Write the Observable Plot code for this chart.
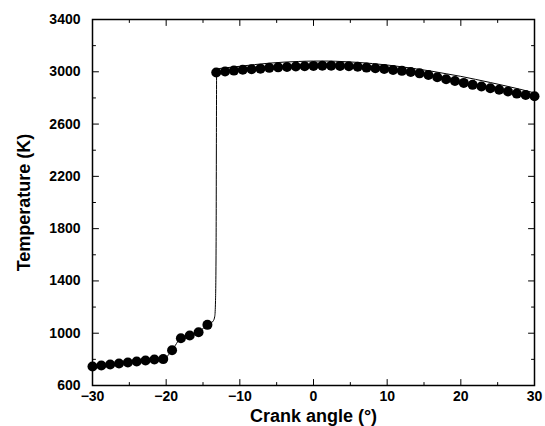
<!DOCTYPE html>
<html>
<head>
<meta charset="utf-8">
<script src="https://cdn.jsdelivr.net/npm/d3@7"></script>
<script src="https://cdn.jsdelivr.net/npm/@observablehq/plot@0.6"></script>
<style>
  html, body { margin: 0; padding: 0; background: #fff; }
  #chart svg { display: block; }
</style>
</head>
<body>
<div id="chart"></div>
<script>
// Measured points (filled circles)
const pointAngle = [-30,-28.8,-27.6,-26.4,-25.2,-24,-22.8,-21.6,-20.4,-19.2,-18,-16.8,-15.6,-14.4,
  -13.2,-12,-10.8,-9.6,-8.4,-7.2,-6,-4.8,-3.6,-2.4,-1.2,0,1.2,2.4,3.6,4.8,6,7.2,8.4,9.6,10.8,12,13.2,14.4,15.6,
  16.8,18,19.2,20.4,21.6,22.8,24,25.2,26.4,27.6,28.8,30];
const pointTemp = [745,753,760,768,776,783,791,799,802,870,962,982,1008,1064,
  2994,3002,3009,3015,3019,3024,3030,3034,3037,3040,3042,3045,3047,3047,3045,3042,3038,3032,3027,3022,3014,3007,2999,2988,2975,
  2958,2943,2930,2915,2900,2887,2874,2862,2849,2833,2823,2813];

// Model curve (thin line)
const lineAngle = [-30,-28.8,-27.6,-26.4,-25.2,-24,-22.8,-21.6,-20.4,-19.2,-18,-16.8,-15.6,-14.4,
  -14,-13.6,-13.4,-13.3,-13.22,-13.18,-13.15,-13,-12,-10,-8,-6,-4,-2,0,2,4,6,8,10,12,14,16,18,20,22,24,26,28,30];
const lineTemp = [745,753,760,768,776,783,791,799,802,870,962,982,1008,1064,
  1075,1095,1130,1250,1700,2500,3015,3022,3030,3042,3055,3066,3074,3079,3082,3082,3078,3072,3063,3052,3038,3022,3005,2985,2965,2942,2918,2893,2867,2838];

// Ticks
const xMajor = [-30,-20,-10,0,10,20,30];
const xMinor = [-25,-15,-5,5,15,25];
const yMajor = [600,1000,1400,1800,2200,2600,3000,3400];
const yMinor = [800,1200,1600,2000,2400,2800,3200];

const points = pointAngle.map((a, i) => ({angle: a, temp: pointTemp[i]}));
const curve = lineAngle.map((a, i) => ({angle: a, temp: lineTemp[i]}));

const tickShape = {draw(ctx, l) { ctx.moveTo(0, 0); ctx.lineTo(0, -l); }};
function ticksX(data, len) {
  return [
    Plot.vector(data, {x: d => d, frameAnchor: "bottom", length: len, rotate: 0, anchor: "start", shape: tickShape, stroke: "black", strokeWidth: 1}),
    Plot.vector(data, {x: d => d, frameAnchor: "top", length: len, rotate: 180, anchor: "start", shape: tickShape, stroke: "black", strokeWidth: 1})
  ];
}
function ticksY(data, len) {
  return [
    Plot.vector(data, {y: d => d, frameAnchor: "left", length: len, rotate: 90, anchor: "start", shape: tickShape, stroke: "black", strokeWidth: 1}),
    Plot.vector(data, {y: d => d, frameAnchor: "right", length: len, rotate: -90, anchor: "start", shape: tickShape, stroke: "black", strokeWidth: 1})
  ];
}

const font = "'Liberation Sans', Arial, Helvetica, sans-serif";

const chart = Plot.plot({
  width: 545,
  height: 426,
  marginLeft: 92,
  marginRight: 11,
  marginTop: 19,
  marginBottom: 41,
  style: {fontFamily: font, background: "white", color: "black"},
  x: {domain: [-30, 30]},
  y: {domain: [600, 3400]},
  marks: [
    Plot.axisX(xMajor, {tickSize: 0, tickPadding: 6, fontSize: 14, fontWeight: "bold", label: null}),
    Plot.axisY(yMajor, {tickSize: 0, tickPadding: 12, fontSize: 14, fontWeight: "bold", label: null, tickFormat: d => String(d)}),
    ...ticksX(xMajor, 6), ...ticksX(xMinor, 3),
    ...ticksY(yMajor, 6), ...ticksY(yMinor, 3),
    Plot.line(curve, {x: "angle", y: "temp", stroke: "black", strokeWidth: 1, curve: "monotone-x"}),
    Plot.dot(points, {x: "angle", y: "temp", r: 5, fill: "black", stroke: "none"}),
    Plot.frame({stroke: "black", strokeWidth: 1.5}),
    Plot.text(["Crank angle (°)"], {frameAnchor: "bottom", dy: 36, text: d => d, fontSize: 18, fontWeight: "bold", textAnchor: "middle"}),
    Plot.text(["Temperature (K)"], {frameAnchor: "left", dx: -68, rotate: -90, text: d => d, fontSize: 18, fontWeight: "bold", textAnchor: "middle"})
  ]
});
document.getElementById("chart").appendChild(chart);
</script>
</body>
</html>
